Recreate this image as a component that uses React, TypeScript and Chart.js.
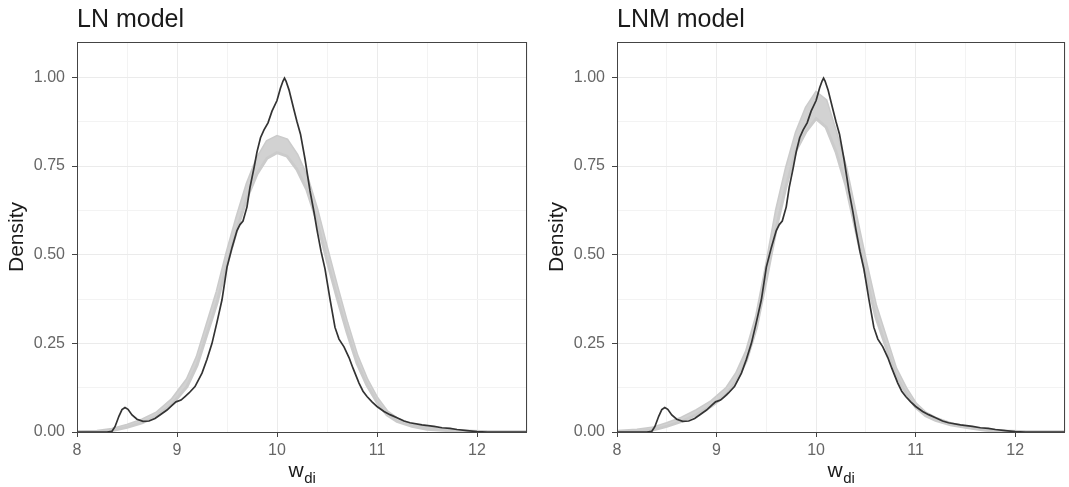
import React, { useEffect, useRef } from 'react';
import { Chart, registerables } from 'chart.js';

Chart.register(...registerables);

const FONT = "'Liberation Sans', Arial, Helvetica, sans-serif";

// ---- Observed density (dark line), shared by both panels ----
const obsX = [
  8.0, 8.3, 8.35, 8.38, 8.42, 8.45, 8.48, 8.51, 8.55, 8.6, 8.66, 8.72, 8.78, 8.84, 8.9, 8.95, 8.99,
  9.04, 9.08, 9.12, 9.18, 9.25, 9.3, 9.35, 9.4, 9.45, 9.5, 9.55, 9.6, 9.63, 9.66, 9.7, 9.73, 9.77,
  9.8, 9.835, 9.87, 9.91, 9.95, 10.0, 10.035, 10.06, 10.075, 10.09, 10.12, 10.17, 10.2, 10.235, 10.28,
  10.33, 10.37, 10.4, 10.44, 10.48, 10.53, 10.58, 10.62, 10.67, 10.72, 10.76, 10.82, 10.86, 10.9,
  10.95, 11.0, 11.07, 11.13, 11.2, 11.27, 11.33, 11.45, 11.57, 11.65, 11.73, 11.8, 11.9, 12.0, 12.1, 12.5,
];
const obsY = [
  0, 0, 0.002, 0.015, 0.045, 0.063, 0.069, 0.064, 0.048, 0.036, 0.03, 0.031, 0.038, 0.05, 0.062, 0.075, 0.085,
  0.09, 0.1, 0.11, 0.128, 0.166, 0.205, 0.25, 0.31, 0.373, 0.465, 0.52, 0.568, 0.585, 0.595, 0.635, 0.69, 0.745,
  0.79, 0.83, 0.852, 0.872, 0.905, 0.935, 0.97, 0.99, 0.998, 0.99, 0.965, 0.908, 0.875, 0.84, 0.77,
  0.68, 0.62, 0.57, 0.51, 0.46, 0.375, 0.295, 0.262, 0.24, 0.21, 0.18, 0.138, 0.115, 0.1,
  0.085, 0.072, 0.058, 0.049, 0.04, 0.031, 0.026, 0.02, 0.016, 0.012, 0.01, 0.007, 0.004, 0.001, 0, 0,
];

// ---- Simulated density envelopes (gray band) ----
const bandX = [
  8.0, 8.2, 8.35, 8.5, 8.65, 8.8, 8.95, 9.1, 9.2, 9.3, 9.4, 9.5, 9.6, 9.7, 9.8, 9.9, 10.0, 10.1, 10.2,
  10.3, 10.4, 10.5, 10.6, 10.7, 10.8, 10.9, 11.0, 11.1, 11.2, 11.35, 11.5, 11.7, 11.9, 12.1, 12.5,
];
const lnUpper = [
  0.001, 0.002, 0.008, 0.019, 0.034, 0.055, 0.092, 0.148, 0.212, 0.304, 0.396, 0.507, 0.608, 0.7, 0.772, 0.82, 0.834, 0.824, 0.782,
  0.72, 0.628, 0.517, 0.41, 0.308, 0.216, 0.148, 0.096, 0.058, 0.038, 0.02, 0.012, 0.006, 0.003, 0.001, 0,
];
const lnLower = [
  0, 0, 0.004, 0.013, 0.026, 0.045, 0.078, 0.128, 0.188, 0.276, 0.364, 0.473, 0.572, 0.66, 0.728, 0.772, 0.788, 0.778, 0.74,
  0.682, 0.594, 0.484, 0.38, 0.282, 0.194, 0.132, 0.084, 0.048, 0.03, 0.016, 0.008, 0.004, 0.001, 0, 0,
];
const lnmUpper = [
  0.002, 0.006, 0.011, 0.024, 0.04, 0.061, 0.087, 0.124, 0.166, 0.228, 0.326, 0.47, 0.625, 0.745, 0.845, 0.915, 0.958, 0.935, 0.845,
  0.745, 0.612, 0.48, 0.356, 0.268, 0.18, 0.125, 0.08, 0.054, 0.039, 0.024, 0.015, 0.007, 0.003, 0.001, 0,
];
const lnmLower = [
  0, 0.002, 0.005, 0.016, 0.03, 0.049, 0.073, 0.106, 0.144, 0.202, 0.294, 0.43, 0.575, 0.695, 0.795, 0.848, 0.884, 0.86, 0.79,
  0.695, 0.568, 0.44, 0.324, 0.242, 0.16, 0.111, 0.07, 0.046, 0.033, 0.02, 0.013, 0.005, 0.001, 0, 0,
];

// ---- Axes ----
const xGridValues = [8, 8.5, 9, 9.5, 10, 10.5, 11, 11.5, 12, 12.5];
const xMajor = [8, 9, 10, 11, 12];
const yGridValues = [0, 0.125, 0.25, 0.375, 0.5, 0.625, 0.75, 0.875, 1.0];
const yMajor = [0, 0.25, 0.5, 0.75, 1.0];
const yTickLabels = ['0.00', '0.25', '0.50', '0.75', '1.00'];
const panelTitles = ['LN model', 'LNM model'];
const yTitle = 'Density';
const xTitleMain = 'w';
const xTitleSub = 'di';

const H = 487;
const PLOT_LEFT = 77;
const PLOT_RIGHT = 527;
const PLOT_TOP = 42;
const PLOT_BOTTOM = 432;

const pts = (xs: number[], ys: number[]) => xs.map((x, i) => ({ x, y: ys[i] }));
const near = (a: number, list: number[]) => list.some((v) => Math.abs(v - a) < 1e-6);

function Panel(props: { left: number; width: number; title: string; upper: number[]; lower: number[] }) {
  const ref = useRef<HTMLCanvasElement>(null);
  useEffect(() => {
    const canvas = ref.current!;
    const textPlugin = {
      id: 'panelText',
      afterDraw(chart: any) {
        const { ctx, chartArea: a } = chart;
        ctx.save();
        // panel border
        ctx.strokeStyle = '#444';
        ctx.lineWidth = 1;
        const l = Math.round(a.left) + 0.5;
        const t = Math.round(a.top) + 0.5;
        const r = Math.round(a.right) - 0.5;
        const b = Math.round(a.bottom) + 0.5;
        ctx.strokeRect(l, t, r - l, b - t);
        // title
        ctx.fillStyle = '#1a1a1a';
        ctx.font = `25px ${FONT}`;
        ctx.textAlign = 'left';
        ctx.textBaseline = 'alphabetic';
        ctx.fillText(props.title, a.left, 27);
        // y title
        ctx.save();
        ctx.translate(a.left - 60, (a.top + a.bottom) / 2);
        ctx.rotate(-Math.PI / 2);
        ctx.font = `21px ${FONT}`;
        ctx.textAlign = 'center';
        ctx.textBaseline = 'middle';
        ctx.fillText(yTitle, 0, 0);
        ctx.restore();
        // x title with subscript
        ctx.font = `21px ${FONT}`;
        const wW = ctx.measureText(xTitleMain).width;
        ctx.font = `15px ${FONT}`;
        const dW = ctx.measureText(xTitleSub).width;
        const start = (a.left + a.right) / 2 - (wW + dW) / 2;
        ctx.textAlign = 'left';
        ctx.font = `21px ${FONT}`;
        ctx.fillText(xTitleMain, start, 477);
        ctx.font = `15px ${FONT}`;
        ctx.fillText(xTitleSub, start + wW + 0.5, 483);
        ctx.restore();
      },
    };

    const chart = new Chart(canvas, {
      type: 'line',
      data: {
        datasets: [
          {
            data: pts(obsX, obsY),
            borderColor: '#333333',
            borderWidth: 1.7,
            pointRadius: 0,
            fill: false,
            order: 0,
          },
          {
            data: pts(bandX, props.upper),
            borderColor: '#cbcbcb',
            borderWidth: 3,
            backgroundColor: '#d2d2d2',
            pointRadius: 0,
            fill: false,
            order: 2,
          },
          {
            data: pts(bandX, props.lower),
            borderColor: '#cbcbcb',
            borderWidth: 3,
            backgroundColor: '#d2d2d2',
            pointRadius: 0,
            fill: '-1',
            order: 1,
          },
        ],
      },
      options: {
        responsive: false,
        animation: false,
        events: [],
        layout: { padding: { left: 0, top: PLOT_TOP, right: props.width - PLOT_RIGHT, bottom: 0 } },
        plugins: { legend: { display: false }, tooltip: { enabled: false }, title: { display: false } },
        elements: { line: { tension: 0 } },
        scales: {
          x: {
            type: 'linear',
            min: 8,
            max: 12.5,
            afterBuildTicks: (s: any) => {
              s.ticks = xGridValues.map((v) => ({ value: v }));
            },
            afterFit: (s: any) => {
              s.height = H - PLOT_BOTTOM;
            },
            border: { display: false },
            grid: {
              color: (c: any) => (near(c.tick?.value, xMajor) ? '#ebebeb' : '#f3f3f3'),
              lineWidth: 1,
              drawTicks: true,
              tickLength: 5,
              tickWidth: 1,
              tickColor: (c: any) => (near(c.tick?.value, xMajor) ? '#444' : 'rgba(0,0,0,0)'),
            },
            ticks: {
              autoSkip: false,
              maxRotation: 0,
              padding: 4,
              color: '#666',
              font: { family: FONT, size: 16 },
              callback: (v: any) => (near(Number(v), xMajor) ? String(v) : ''),
            },
          },
          y: {
            type: 'linear',
            min: 0,
            max: 1.1,
            afterBuildTicks: (s: any) => {
              s.ticks = yGridValues.map((v) => ({ value: v }));
            },
            afterFit: (s: any) => {
              s.width = PLOT_LEFT;
            },
            border: { display: false },
            grid: {
              color: (c: any) => (near(c.tick?.value, yMajor) ? '#ebebeb' : '#f3f3f3'),
              lineWidth: 1,
              drawTicks: true,
              tickLength: 5,
              tickWidth: 1,
              tickColor: (c: any) => (near(c.tick?.value, yMajor) ? '#444' : 'rgba(0,0,0,0)'),
            },
            ticks: {
              autoSkip: false,
              padding: 7,
              color: '#666',
              font: { family: FONT, size: 16 },
              callback: (v: any) => {
                const i = yMajor.findIndex((m) => Math.abs(m - Number(v)) < 1e-6);
                return i >= 0 ? yTickLabels[i] : '';
              },
            },
          },
        },
      },
      plugins: [textPlugin],
    } as any);
    return () => chart.destroy();
  }, []);
  return (
    <canvas
      ref={ref}
      width={props.width}
      height={H}
      style={{ position: 'absolute', left: props.left, top: 0, width: props.width, height: H }}
    />
  );
}

export default function App() {
  return (
    <div style={{ position: 'absolute', left: 0, top: 0, width: 1069, height: H, background: '#fff', overflow: 'hidden' }}>
      <Panel left={0} width={540} title={panelTitles[0]} upper={lnUpper} lower={lnLower} />
      <Panel left={540} width={529} title={panelTitles[1]} upper={lnmUpper} lower={lnmLower} />
    </div>
  );
}
